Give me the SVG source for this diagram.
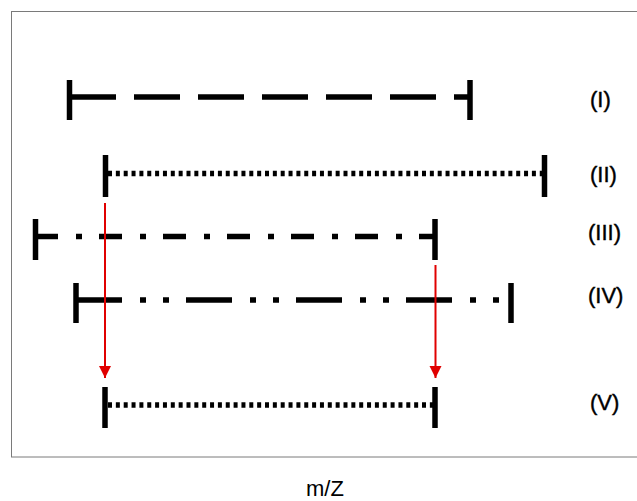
<svg xmlns="http://www.w3.org/2000/svg" width="637" height="501" viewBox="0 0 637 501">
  <style>
    .frame { fill: none; stroke: #7a7a7a; stroke-width: 1; }
    .tick { stroke: #000; stroke-width: 5.5; fill: none; }
    .range { stroke: #000; stroke-width: 5.5; fill: none; }
    .label { font-family: "Liberation Sans", Arial, sans-serif; font-size: 22px; fill: #000; stroke: #000; stroke-width: 0.4; }
    .caption { font-family: "Liberation Sans", Arial, sans-serif; font-size: 22px; fill: #000; }
    .shift { stroke: #e00000; stroke-width: 2; fill: none; marker-end: url(#redhead); }
  </style>
  <defs>
    <marker id="redhead" markerUnits="userSpaceOnUse" markerWidth="12" markerHeight="14" refX="12" refY="6" orient="auto">
      <path d="M0,0 L12,6 L0,12 Z" fill="#e00000"/>
    </marker>
  </defs>

  <!-- plot frame (open on the right) -->
  <rect class="frame" x="11.5" y="11.5" width="640" height="445.5"/>

  <!-- (I) dashed range -->
  <g id="range-I">
    <line class="tick" x1="69.5" y1="80" x2="69.5" y2="120"/>
    <line class="tick" x1="470" y1="80" x2="470" y2="120"/>
    <line class="range" x1="70" y1="97" x2="470" y2="97" stroke-dasharray="46 18"/>
    <text class="label" x="590" y="107">(I)</text>
  </g>

  <!-- (II) dotted range -->
  <g id="range-II">
    <line class="tick" x1="105.5" y1="155" x2="105.5" y2="197"/>
    <line class="tick" x1="544.5" y1="155" x2="544.5" y2="197"/>
    <line class="range" x1="108" y1="173.5" x2="542" y2="173.5" stroke-dasharray="4 3.85"/>
    <text class="label" x="590" y="182">(II)</text>
  </g>

  <!-- (III) dash-dot range -->
  <g id="range-III">
    <line class="tick" x1="35.5" y1="219" x2="35.5" y2="260"/>
    <line class="tick" x1="435" y1="219" x2="435" y2="260"/>
    <line class="range" x1="35" y1="236.5" x2="435" y2="236.5" stroke-dasharray="23 18 6 17"/>
    <text class="label" x="588" y="240">(III)</text>
  </g>

  <!-- (IV) dash-dot-dot range -->
  <g id="range-IV">
    <line class="tick" x1="76" y1="283" x2="76" y2="323"/>
    <line class="tick" x1="511" y1="283" x2="511" y2="323"/>
    <line class="range" x1="76" y1="300" x2="511" y2="300" stroke-dasharray="46 18 6 17 6 17"/>
    <text class="label" x="588" y="303">(IV)</text>
  </g>

  <!-- (V) dotted range -->
  <g id="range-V">
    <line class="tick" x1="105" y1="387" x2="105" y2="428"/>
    <line class="tick" x1="435" y1="387" x2="435" y2="428"/>
    <line class="range" x1="108" y1="405" x2="433" y2="405" stroke-dasharray="4 3.85"/>
    <text class="label" x="590" y="410">(V)</text>
  </g>

  <!-- red projection arrows -->
  <g id="connectors">
    <line class="shift" x1="105" y1="203" x2="105" y2="378"/>
    <line class="shift" x1="435.5" y1="265" x2="435.5" y2="378"/>
  </g>

  <!-- axis caption -->
  <text class="caption" x="325" y="496" text-anchor="middle">m/Z</text>
</svg>
